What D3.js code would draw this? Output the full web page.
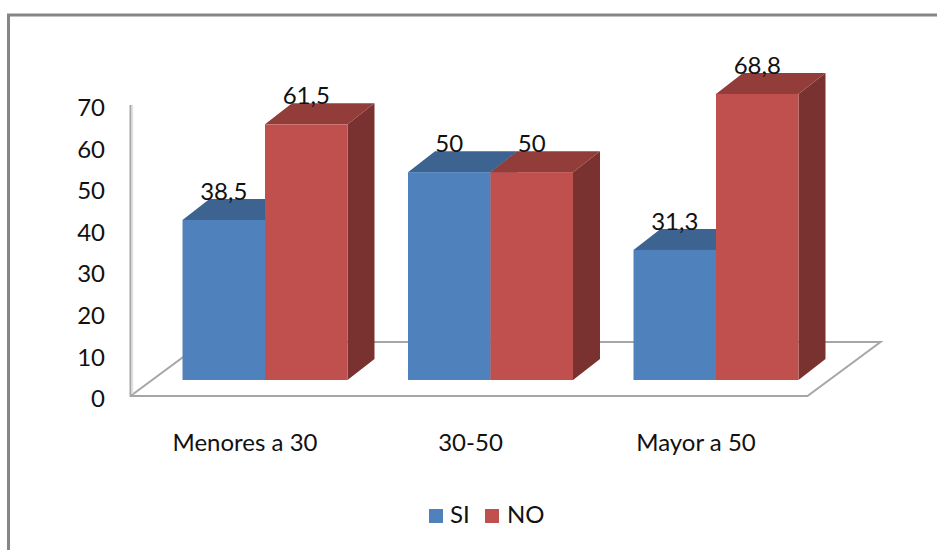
<!DOCTYPE html>
<html>
<head>
<meta charset="utf-8">
<script src="https://cdn.jsdelivr.net/npm/d3@7/dist/d3.min.js"></script>
<style>
html,body{margin:0;padding:0;background:#fff}
svg{display:block}
text{font-family:Lato,"Open Sans",sans-serif;fill:#111}
</style>
</head>
<body>
<svg id="chart" width="937" height="550"></svg>
<script>
// Age groups and the percentage answering SI / NO in each
const categories = ["Menores a 30", "30-50", "Mayor a 50"];
const seriesNames = ["SI", "NO"];
const siValues = [38.5, 50, 31.3];
const noValues = [61.5, 50, 68.8];
const valueLabels = [["38,5", "50", "31,3"], ["61,5", "50", "68,8"]];
const yTicks = [0, 10, 20, 30, 40, 50, 60, 70];

const frontColors = ["#4f81bd", "#c0504d"];
const topColors = ["#3d6390", "#933d3b"];
const sideColors = ["#2f4d70", "#7a3230"];
const fontSize = "24px";

const svg = d3.select("#chart");

// Page frame: only the top and left edges are visible
svg.append("path").attr("d", "M8.5,550V15H937")
  .attr("fill", "none").attr("stroke", "#868686").attr("stroke-width", 3);

// Oblique projection offset between the front plane and the back wall
const depthX = 73, depthY = -54;
const barDepthX = 27, barDepthY = -21;
const wallX = 130.5, floorY = 396;

const y = d3.scaleLinear().domain([0, 70]).range([floorY, 105]);
const barBaseShift = -16;   // bars stand forward of the axis on the floor

const x0 = d3.scaleBand().domain(categories).range([152.25, 828.75]);
const x1 = d3.scaleBand().domain(seriesNames).range([0, 165]);
const groupStart = c => x0(c) + (x0.bandwidth() - 165) / 2;

// Walls and floor outline
const wall = svg.append("g").attr("fill", "none");
wall.append("path")
  .attr("d", `M${wallX},${y(70)}V${floorY}H${wallX + 677}l${depthX},${depthY}H${wallX + depthX}L${wallX},${floorY}`)
  .attr("stroke", "#a6a6a6").attr("stroke-width", 2);
wall.append("line")
  .attr("x1", wallX + 2).attr("x2", wallX + 2).attr("y1", y(70)).attr("y2", floorY - 2)
  .attr("stroke", "#e2e2e2").attr("stroke-width", 1.5);

// Value axis
const yAxis = d3.axisLeft(y).tickValues(yTicks).tickSize(0).tickPadding(0);
const yg = svg.append("g").attr("transform", "translate(105,2)").call(yAxis);
yg.select(".domain").remove();
yg.selectAll("text").style("font-size", fontSize).attr("dy", "0.36em").attr("fill", "#111");

// Category axis, centred on the front edge of the floor
const xAxis = d3.axisBottom(x0).tickSize(0).tickPadding(0);
const xg = svg.append("g").attr("transform", "translate(-20,434)").call(xAxis);
xg.select(".domain").remove();
xg.selectAll("text").style("font-size", fontSize).attr("dy", "0.71em").attr("fill", "#111");

// Bars, drawn back to front so each front face covers its neighbour's top
const rows = [];
categories.forEach((c, i) => {
  [siValues[i], noValues[i]].forEach((v, s) => rows.push({c, s, v, label: valueLabels[s][i]}));
});

const bars = svg.append("g").selectAll("g").data(rows).join("g");
const w = x1.bandwidth();
const barLeft = d => groupStart(d.c) + x1(seriesNames[d.s]);
const barTop = d => y(d.v) + barBaseShift;
const base = y(0) + barBaseShift;

bars.append("path")
  .attr("fill", d => sideColors[d.s])
  .attr("d", d => `M${barLeft(d) + w},${barTop(d)}l${barDepthX},${barDepthY}V${base + barDepthY}l${-barDepthX},${-barDepthY}Z`);
bars.append("path")
  .attr("fill", d => topColors[d.s])
  .attr("d", d => `M${barLeft(d)},${barTop(d)}l${barDepthX},${barDepthY}h${w}l${-barDepthX},${-barDepthY}Z`);
bars.append("rect")
  .attr("x", barLeft).attr("y", barTop).attr("width", w).attr("height", d => base - barTop(d))
  .attr("fill", d => frontColors[d.s]);

// Value labels sit over the top face of each bar
svg.append("g").selectAll("text").data(rows).join("text")
  .attr("x", d => barLeft(d) + w / 2)
  .attr("y", d => barTop(d) - 20)
  .attr("text-anchor", "middle")
  .style("font-size", fontSize)
  .text(d => d.label);

// Legend
const legendItems = [{x: 429, tx: 450}, {x: 485, tx: 507}];
const legend = svg.append("g").selectAll("g").data(seriesNames).join("g");
legend.append("rect")
  .attr("x", (d, i) => legendItems[i].x).attr("y", 509)
  .attr("width", 14).attr("height", 14)
  .attr("fill", (d, i) => frontColors[i]);
legend.append("text")
  .attr("x", (d, i) => legendItems[i].tx).attr("y", 523)
  .style("font-size", fontSize)
  .text(d => d);
</script>
</body>
</html>
